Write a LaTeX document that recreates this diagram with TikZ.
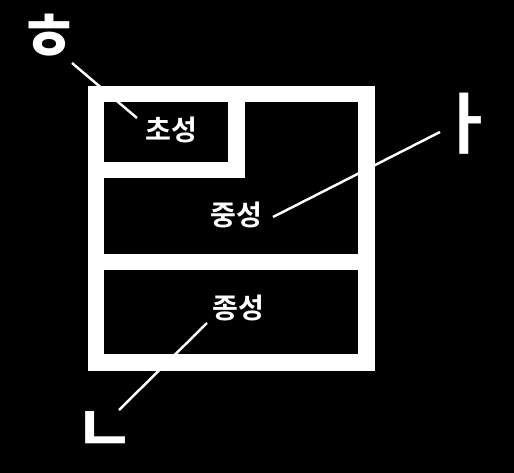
\documentclass[tikz,border=0pt]{standalone}
\usepackage{fontspec}
\newfontfamily\krfont{Noto Sans CJK KR}[BoldFont={Noto Sans CJK KR Bold}]
\usetikzlibrary{positioning}

\begin{document}
\begin{tikzpicture}[
                x=0.02cm, y=-0.02cm,
                % Text Styles
                partText/.style = {text=white, inner sep=0pt, font=\krfont\bfseries\fontsize{16}{18}\selectfont},
                jamoText/.style = {text=white, inner sep=0pt, font=\krfont\bfseries\fontsize{38}{40}\selectfont},
                % Line Styles
                frameLine/.style = {draw=white, line width=0.34cm, line join=miter},
                leadLine/.style = {draw=white, line width=1.4pt}
            ]
                % ==========================================
                % BACKGROUND
                % ==========================================
                \fill[black] (0,0) rectangle (514,473);
                \useasboundingbox (0,0) rectangle (514,473);

                % ==========================================
                % SYLLABLE BLOCK FRAME
                % ==========================================
                \draw[frameLine] (96,94) rectangle (366,362);
                \draw[frameLine] (96,170) -- (236,170) -- (236,94);
                \draw[frameLine] (96,262) -- (366,262);

                % ==========================================
                % PART LABELS
                % ==========================================
                \node[partText] (Cho) at (171,130) {초성};
                \node[partText] (Jung) at (236,215) {중성};
                \node[partText] (Jong) at (238,308) {종성};

                % ==========================================
                % JAMO
                % ==========================================
                \node[jamoText] (Hieut) at (49,38) {ㅎ};
                \node[jamoText] (A) at (466,124) {ㅏ};
                \node[jamoText] (Nieun) at (105,432) {ㄴ};

                % Leader lines
                \draw[leadLine] ([shift={(23,25)}]Hieut.center) -- ([shift={(-34,-12)}]Cho.center);
                \draw[leadLine] ([shift={(-26,8)}]A.center) -- ([shift={(37,2)}]Jung.center);
                \draw[leadLine] ([shift={(14,-22)}]Nieun.center) -- ([shift={(-31,15)}]Jong.center);

            \end{tikzpicture}
\end{document}
